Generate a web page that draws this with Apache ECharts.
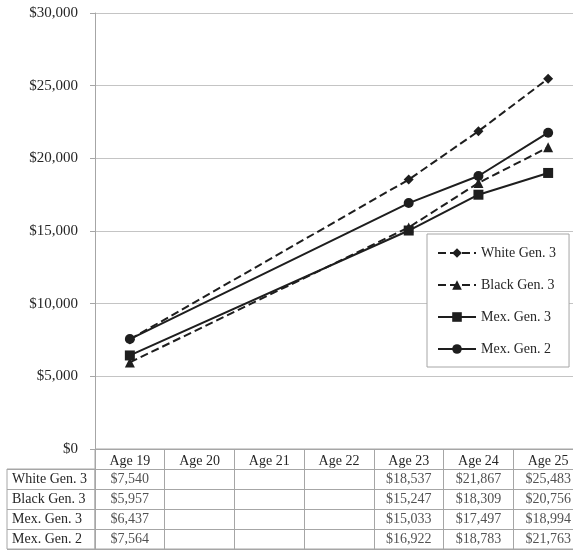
<!DOCTYPE html>
<html>
<head>
<meta charset="utf-8">
<script src="https://cdn.jsdelivr.net/npm/echarts@6/dist/echarts.min.js"></script>
<style>
  html, body { margin: 0; padding: 0; overflow: hidden; background: #fff; }
  #chart { width: 583px; height: 557px; }
</style>
</head>
<body>
<div id="chart"></div>
<script>
// categories and series values
const ages = ['Age 19', 'Age 20', 'Age 21', 'Age 22', 'Age 23', 'Age 24', 'Age 25'];
const rowNames = ['White Gen. 3', 'Black Gen. 3', 'Mex. Gen. 3', 'Mex. Gen. 2'];
const whiteGen3 = [7540, null, null, null, 18537, 21867, 25483];
const blackGen3 = [5957, null, null, null, 15247, 18309, 20756];
const mexGen3 = [6437, null, null, null, 15033, 17497, 18994];
const mexGen2 = [7564, null, null, null, 16922, 18783, 21763];
const yMin = 0;
const yMax = 30000;
const yStep = 5000;

const font = "'Liberation Serif', 'Times New Roman', serif";
const ink = '#1e1e1e';
const textColor = '#262626';
const borderGray = '#a6a6a6';
const gridGray = '#c4c4c4';

const money = v => '$' + Number(v).toLocaleString('en-US');

// cells for the data table under the chart
const rows = [whiteGen3, blackGen3, mexGen3, mexGen2];
const cells = [];
rows.forEach((vals, r) => {
  vals.forEach((v, i) => {
    if (v != null) cells.push([i, r + 1, v]);
  });
});

const dashed = [8, 4];
const lineSeries = (name, data, symbol, size, type) => ({
  name: name,
  type: 'line',
  xAxisIndex: 0,
  yAxisIndex: 0,
  data: data,
  connectNulls: true,
  symbol: symbol,
  symbolSize: size,
  color: ink,
  itemStyle: { color: ink },
  lineStyle: { color: ink, width: 2, type: type },
  emphasis: { disabled: true },
  z: 3
});

const chart = echarts.init(document.getElementById('chart'));

const option = {
  animation: false,
  textStyle: { fontFamily: font },
  legend: {
    data: rowNames,
    orient: 'vertical',
    left: 427,
    top: 234,
    padding: [12, 13, 11, 10],
    itemWidth: 38,
    itemHeight: 12,
    itemGap: 18,
    backgroundColor: '#fff',
    borderColor: borderGray,
    borderWidth: 1,
    textStyle: { fontFamily: font, fontSize: 14, color: textColor },
    z: 10
  },
  grid: [
    // plot
    { left: 95, top: 13, width: 488, height: 436 },
    // value cells of the table (header row + 4 rows)
    { left: 95, top: 449, width: 488, height: 100, show: true, borderColor: borderGray, borderWidth: 1 },
    // row label column
    { left: 7, top: 469, width: 88, height: 80, show: true, borderColor: borderGray, borderWidth: 1 }
  ],
  xAxis: [
    {
      type: 'category',
      gridIndex: 0,
      data: ages,
      boundaryGap: true,
      axisLine: { show: true, lineStyle: { color: borderGray } },
      axisTick: { show: false },
      axisLabel: { margin: 5, fontSize: 14, color: textColor, fontFamily: font, interval: 0 },
      splitLine: { show: false }
    },
    {
      type: 'category',
      gridIndex: 1,
      data: ages,
      boundaryGap: true,
      axisLine: { show: false },
      axisTick: { show: false },
      axisLabel: { show: false },
      splitLine: { show: true, interval: 0, lineStyle: { color: borderGray } }
    },
    { type: 'value', gridIndex: 2, show: false }
  ],
  yAxis: [
    {
      type: 'value',
      gridIndex: 0,
      min: yMin,
      max: yMax,
      interval: yStep,
      axisLine: { show: true, lineStyle: { color: borderGray } },
      axisTick: { show: true, length: 5, lineStyle: { color: borderGray } },
      axisLabel: { margin: 17, fontSize: 15, color: textColor, fontFamily: font, formatter: money },
      splitLine: { show: true, lineStyle: { color: gridGray, width: 1 } }
    },
    {
      type: 'category',
      gridIndex: 1,
      data: [''].concat(rowNames),
      inverse: true,
      axisLine: { show: false },
      axisTick: { show: false },
      axisLabel: { show: false },
      splitLine: { show: true, interval: 0, lineStyle: { color: borderGray } }
    },
    {
      type: 'category',
      gridIndex: 2,
      data: rowNames,
      inverse: true,
      axisLine: { show: false },
      axisTick: { show: false },
      axisLabel: { inside: true, margin: 5, fontSize: 14, color: textColor, fontFamily: font, interval: 0 },
      splitLine: { show: true, interval: 0, lineStyle: { color: borderGray } }
    }
  ],
  series: [
    lineSeries('White Gen. 3', whiteGen3, 'diamond', 10, dashed),
    lineSeries('Black Gen. 3', blackGen3, 'triangle', 10, dashed),
    lineSeries('Mex. Gen. 3', mexGen3, 'rect', 10, 'solid'),
    lineSeries('Mex. Gen. 2', mexGen2, 'circle', 10, 'solid'),
    {
      name: 'table',
      type: 'scatter',
      xAxisIndex: 1,
      yAxisIndex: 1,
      data: cells,
      symbolSize: 1,
      itemStyle: { color: 'rgba(0,0,0,0)' },
      silent: true,
      label: {
        show: true,
        position: 'inside',
        formatter: p => money(p.value[2]),
        fontFamily: font,
        fontSize: 14,
        color: textColor
      }
    }
  ]
};

chart.setOption(option);
</script>
</body>
</html>
